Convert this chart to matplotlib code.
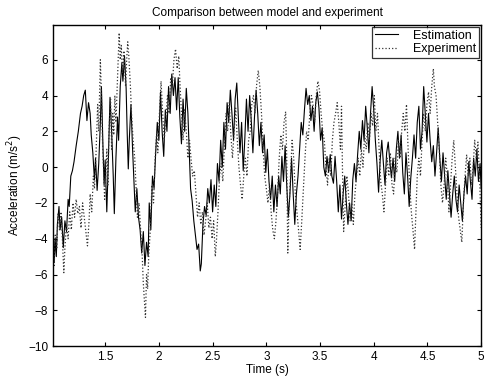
import matplotlib.pyplot as plt

# Estimation (model) - time and acceleration
est_t = [1.015, 1.025, 1.035, 1.045, 1.055, 1.07, 1.08, 1.095, 1.11, 1.125,
         1.14, 1.155, 1.165, 1.18, 1.195, 1.21, 1.23, 1.25, 1.27, 1.285,
         1.30, 1.315, 1.33, 1.345, 1.36, 1.37, 1.385, 1.40, 1.41, 1.425,
         1.44, 1.455, 1.465, 1.48, 1.49, 1.50, 1.515, 1.53, 1.545, 1.56,
         1.575, 1.585, 1.60, 1.615, 1.625, 1.64, 1.655, 1.665, 1.68, 1.695,
         1.705, 1.715, 1.725, 1.74, 1.755, 1.77, 1.78, 1.795, 1.81, 1.825,
         1.84, 1.855, 1.87, 1.885, 1.90, 1.91, 1.925, 1.94, 1.955, 1.97,
         1.985, 2.00, 2.015, 2.03, 2.045, 2.06, 2.075, 2.09, 2.105, 2.12,
         2.135, 2.15, 2.165, 2.18, 2.195, 2.21, 2.225, 2.24, 2.255, 2.27,
         2.285, 2.295, 2.31, 2.325, 2.34, 2.355, 2.37, 2.385, 2.395, 2.41,
         2.425, 2.44, 2.455, 2.47, 2.485, 2.50, 2.515, 2.53, 2.545, 2.56,
         2.575, 2.59, 2.605, 2.62, 2.635, 2.65, 2.665, 2.68, 2.695, 2.71,
         2.725, 2.74, 2.755, 2.77, 2.785, 2.80, 2.815, 2.83, 2.845, 2.86,
         2.875, 2.89, 2.905, 2.92, 2.935, 2.95, 2.965, 2.98, 2.995, 3.01,
         3.025, 3.04, 3.055, 3.07, 3.085, 3.10, 3.115, 3.13, 3.145, 3.16,
         3.175, 3.19, 3.205, 3.22, 3.235, 3.25, 3.265, 3.28, 3.295, 3.31,
         3.325, 3.34, 3.355, 3.37, 3.385, 3.40, 3.415, 3.43, 3.445, 3.46,
         3.475, 3.49, 3.505, 3.52, 3.535, 3.55, 3.565, 3.58, 3.595, 3.61,
         3.625, 3.64, 3.655, 3.67, 3.685, 3.70, 3.715, 3.73, 3.745, 3.76,
         3.775, 3.79, 3.805, 3.82, 3.835, 3.85, 3.865, 3.88, 3.895, 3.91,
         3.925, 3.94, 3.955, 3.97, 3.985, 4.00, 4.015, 4.03, 4.045, 4.06,
         4.075, 4.09, 4.105, 4.12, 4.135, 4.15, 4.165, 4.18, 4.195, 4.21,
         4.225, 4.24, 4.255, 4.27, 4.285, 4.30, 4.315, 4.33, 4.345, 4.36,
         4.375, 4.39, 4.405, 4.42, 4.435, 4.45, 4.465, 4.48, 4.495, 4.51,
         4.525, 4.54, 4.555, 4.57, 4.585, 4.60, 4.615, 4.63, 4.645, 4.66,
         4.675, 4.69, 4.705, 4.72, 4.735, 4.75, 4.765, 4.78, 4.795, 4.81,
         4.825, 4.84, 4.855, 4.87, 4.885, 4.90, 4.915, 4.93, 4.945, 4.96,
         4.975, 4.99, 5.00]
est_y = [-3.0, -5.3, -4.0, -5.0, -3.2, -2.2, -3.5, -2.8, -4.5, -3.0,
         -3.6, -1.8, -2.2, -0.5, -0.2, 0.3, 1.2, 2.0, 3.0, 3.4,
         4.0, 4.3, 2.6, 3.6, 3.0, 1.8, 0.8, -0.7, 0.5, -1.3,
         0.2, 2.5, 4.5, 1.0, -1.0, 0.4, -2.5, 0.5, 3.9, 2.0,
         -0.5, -2.6, 0.5, 2.8, 1.5, 4.5, 5.8, 4.8, 6.2, 4.4,
         1.9, -0.1, 1.6, 3.5, 1.0, -1.1, -2.5, -1.2, -2.8, -3.5,
         -4.8, -3.6, -5.5, -4.2, -5.0, -2.0, -3.5, -0.5, -1.2, 0.8,
         2.5, 1.5, 4.2, 2.0, 0.6, 3.2, 2.0, 4.5, 3.0, 5.2,
         4.0, 5.0, 3.2, 5.0, 2.8, 1.3, 3.8, 2.0, 4.4, 3.0,
         0.5, -1.2, -1.9, -3.0, -3.8, -4.6, -4.3, -5.8, -5.4, -3.2,
         -2.2, -2.7, -1.2, -2.0, -0.7, -2.5, -1.0, -2.2, 0.2, -0.8,
         1.5, 0.0, 2.5, 1.0, 3.6, 2.5, 4.3, 3.0, 1.5, 3.8,
         4.7, 2.8, 0.8, 2.5, -0.2, 1.6, 3.8, 2.0, 4.0, 2.6,
         0.8, 2.8, 4.3, 3.0, 1.2, 2.5, 0.8, 1.8, -0.3, 1.0,
         -0.8, -1.8, -0.5, -2.5, -1.0, -2.2, -0.5, -1.5, 0.6, -0.8,
         1.2, -1.0, -2.8, -1.5, 0.5, -1.5, -3.2, -1.5, -0.5, 1.0,
         2.5, 1.8, 3.2, 4.4, 3.5, 4.0, 2.6, 3.4, 2.0, 3.6,
         4.2, 3.3, 1.5, 2.2, 0.0, -0.5, 0.6, -0.3, 0.7, -0.5,
         -0.9, 0.6, -0.8, -2.5, -1.0, -2.9, -1.5, -0.5, -2.0, -3.2,
         -2.0, -3.0, -0.7, 0.2, -0.8, 0.7, 2.0, 1.0, 2.6, 1.5,
         3.4, 2.2, 0.8, 3.0, 4.5, 3.2, 1.5, 0.2, -1.4, 0.4,
         1.5, 0.2, -1.0, 0.8, 1.4, 0.3, -0.6, 0.5, -0.8, 1.0,
         2.0, 0.5, 1.8, -0.3, -1.5, 0.8, -0.5, -2.2, -0.6, 0.5,
         1.8, 0.5, 2.5, 3.4, 1.0, 2.0, 4.5, 3.0, 1.4, 3.0,
         1.5, 0.3, 1.2, -0.5, 0.8, 2.2, 0.5, -0.8, 0.8, -0.5,
         -1.8, -0.2, -1.5, -2.8, -1.5, -0.5, -1.8, -2.5, -1.0, -2.0,
         -3.0, -1.5, -0.5, -1.5, 0.3, -0.8, -1.8, 0.5, -0.5, 1.0,
         -0.8, 0.2, -1.2]

# Experiment - time and acceleration
exp_t = [1.015, 1.025, 1.035, 1.05, 1.06, 1.075, 1.09, 1.10, 1.115, 1.125,
         1.14, 1.155, 1.17, 1.185, 1.20, 1.215, 1.23, 1.245, 1.26, 1.275,
         1.29, 1.305, 1.32, 1.335, 1.35, 1.36, 1.375, 1.39, 1.40, 1.415,
         1.43, 1.44, 1.455, 1.465, 1.475, 1.485, 1.495, 1.505, 1.515, 1.525,
         1.535, 1.55, 1.56, 1.57, 1.58, 1.59, 1.60, 1.615, 1.63, 1.64,
         1.65, 1.66, 1.675, 1.69, 1.70, 1.71, 1.72, 1.735, 1.745, 1.76,
         1.775, 1.79, 1.80, 1.815, 1.83, 1.845, 1.855, 1.865, 1.875, 1.885,
         1.895, 1.905, 1.92, 1.935, 1.95, 1.965, 1.98, 1.99, 2.005, 2.02,
         2.035, 2.05, 2.065, 2.08, 2.095, 2.11, 2.125, 2.14, 2.155, 2.17,
         2.185, 2.195, 2.21, 2.225, 2.24, 2.255, 2.27, 2.285, 2.30, 2.315,
         2.33, 2.345, 2.36, 2.375, 2.39, 2.405, 2.42, 2.435, 2.45, 2.465,
         2.48, 2.495, 2.51, 2.525, 2.535, 2.55, 2.565, 2.58, 2.595, 2.61,
         2.625, 2.64, 2.655, 2.67, 2.685, 2.70, 2.715, 2.73, 2.745, 2.76,
         2.775, 2.79, 2.805, 2.82, 2.835, 2.85, 2.865, 2.88, 2.895, 2.91,
         2.925, 2.94, 2.955, 2.97, 2.985, 3.00, 3.015, 3.03, 3.045, 3.06,
         3.075, 3.09, 3.105, 3.12, 3.135, 3.15, 3.165, 3.18, 3.19, 3.20,
         3.21, 3.225, 3.24, 3.255, 3.27, 3.285, 3.30, 3.315, 3.33, 3.345,
         3.36, 3.375, 3.39, 3.405, 3.42, 3.435, 3.45, 3.465, 3.48, 3.495,
         3.51, 3.525, 3.54, 3.555, 3.57, 3.585, 3.60, 3.615, 3.63, 3.645,
         3.66, 3.675, 3.69, 3.70, 3.71, 3.72, 3.735, 3.75, 3.765, 3.78,
         3.795, 3.81, 3.825, 3.84, 3.855, 3.87, 3.885, 3.90, 3.915, 3.93,
         3.945, 3.96, 3.975, 3.99, 4.005, 4.02, 4.035, 4.05, 4.065, 4.08,
         4.095, 4.11, 4.125, 4.14, 4.155, 4.17, 4.185, 4.20, 4.215, 4.23,
         4.245, 4.26, 4.275, 4.29, 4.305, 4.32, 4.335, 4.35, 4.365, 4.38,
         4.39, 4.405, 4.42, 4.435, 4.45, 4.465, 4.48, 4.495, 4.51, 4.525,
         4.54, 4.555, 4.565, 4.58, 4.595, 4.61, 4.625, 4.64, 4.655, 4.67,
         4.685, 4.70, 4.715, 4.73, 4.745, 4.76, 4.775, 4.79, 4.805, 4.82,
         4.835, 4.85, 4.865, 4.88, 4.895, 4.91, 4.925, 4.94, 4.955, 4.97,
         4.985, 5.00]
exp_y = [-4.0, -5.5, -3.8, -4.5, -2.6, -3.5, -2.5, -3.8, -5.9, -4.5,
         -3.2, -4.0, -2.5, -3.5, -2.0, -2.8, -1.8, -2.6, -2.2, -3.4,
         -2.0, -2.8, -3.6, -4.4, -3.0, -1.5, -2.5, -0.5, -1.2, 0.8,
         3.5, 2.0, 6.0, 4.0, 1.5, -0.2, -1.8, -0.5, 1.0, -1.0,
         2.0, 3.8, 1.0, 3.0, 1.8, 4.0, 2.5, 5.0, 7.5, 6.0,
         6.8, 5.2, 6.5, 4.5, 6.0, 7.0, 6.2, 4.5, 3.0, 1.5,
         0.5, -1.5, -2.8, -2.0, -3.5, -5.0, -6.5, -7.5, -8.4, -6.0,
         -6.8, -5.0, -3.5, -1.0, -2.0, 0.5, 2.0, 0.8, 3.0, 4.8,
         3.0, 1.5, 2.8, 4.0, 3.0, 5.0, 4.5, 6.0, 6.6, 5.5,
         6.2, 4.8, 3.0, 1.5, 3.2, 2.0, 0.5, 1.5, 0.4, -0.5,
         -0.2, -1.5, -2.8, -2.0, -3.2, -2.5, -3.8, -3.0, -2.0, -3.4,
         -2.8, -4.0, -3.0, -5.0, -4.2, -2.5, -0.5, 0.2, -0.8, 1.2,
         3.0, 2.0, 3.6, 1.8, 0.5, 2.0, 3.3, 1.5, 0.0, -1.0,
         -1.8, -0.5, 0.5, -0.5, 1.5, 2.0, 3.5, 4.0, 3.0, 4.6,
         5.4, 4.5, 3.0, 1.0, -0.5, -1.2, -2.0, -1.0, -2.5, -3.5,
         -4.0, -3.0, -1.5, 0.5, 1.8, 1.0, 2.5, 3.1, 0.5, -4.8,
         -2.5, -0.5, 1.5, 0.5, -1.5, -2.5, -3.5, -4.6, -3.0, -1.2,
         0.5, 2.0, 1.5, 3.0, 4.0, 3.5, 2.5, 4.0, 4.8, 4.3,
         3.0, 2.0, 1.5, 0.0, -1.0, 0.5, -0.5, 1.5, 2.5, 3.0,
         3.6, 2.5, 1.0, 3.4, -0.5, -3.6, -2.0, -0.5, -1.5, -3.0,
         -2.0, -3.2, -1.5, -0.5, 0.5, -0.5, 1.0, 0.0, 1.8, 1.0,
         2.5, 1.5, 3.0, 2.3, 4.0, 2.0, 3.0, 1.0, -0.8, -1.5,
         -2.5, -1.0, 0.5, -0.5, 0.8, -1.0, -1.5, 0.5, -0.3, 1.5,
         0.5, 2.0, 3.0, 2.0, 3.5, 1.0, -1.0, -2.5, -3.5, -4.6,
         -3.0, -0.5, 0.5, -0.5, 1.5, 3.0, 2.0, 3.5, 4.2, 3.0,
         4.5, 5.5, 4.5, 4.0, 2.5, 1.0, -1.0, -2.0, -1.0, 0.5,
         -0.5, -2.5, -1.0, 0.5, 1.5, 0.0, -1.5, -2.8, -3.5, -4.2,
         -2.0, -0.5, 0.7, -0.5, 0.5, -1.0, 0.0, 1.5, 0.5, 1.4,
         -0.5, -3.4]

x_ticks = [1.5, 2, 2.5, 3, 3.5, 4, 4.5, 5]
y_ticks = [-10, -8, -6, -4, -2, 0, 2, 4, 6]

plt.rcParams['font.family'] = ['Liberation Sans', 'DejaVu Sans']

fig = plt.figure(figsize=(4.87, 3.82), dpi=100)
ax = fig.add_axes([0.109, 0.094, 0.879, 0.841])

ax.plot(est_t, est_y, color='black', linestyle='-', linewidth=0.8, label='Estimation')
ax.plot(exp_t, exp_y, color='#333333', linestyle=':', linewidth=0.9, label='Experiment')

ax.set_xlim(1.015, 5.0)
ax.set_ylim(-10, 7.95)
ax.set_xticks(x_ticks)
ax.set_xticklabels(['1.5', '2', '2.5', '3', '3.5', '4', '4.5', '5'])
ax.set_yticks(y_ticks)
ax.tick_params(direction='in', top=True, right=True, labelsize=8.5, length=3, width=0.8)
for s in ax.spines.values():
    s.set_linewidth(1.0)

ax.set_xlabel('Time (s)', fontsize=8.5, labelpad=1)
ax.set_ylabel('Acceleration (m/s$^2$)', fontsize=8.5, labelpad=2)
ax.set_title('Comparison between model and experiment', fontsize=8.5, pad=6)

leg = ax.legend(loc='upper right', fontsize=9, frameon=True, fancybox=False,
                edgecolor='black', handlelength=1.8, borderaxespad=0.15,
                borderpad=0.25, labelspacing=0.1, handletextpad=1.2)
leg.get_frame().set_linewidth(0.9)

fig.savefig('out.png', dpi=100)
